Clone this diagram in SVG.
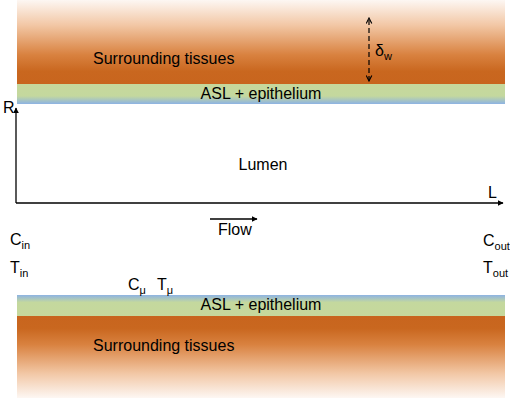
<svg xmlns="http://www.w3.org/2000/svg" width="510" height="402" viewBox="0 0 510 402">
<defs>
<linearGradient id="tisTop" x1="0" y1="0" x2="0" y2="1">
<stop offset="0" stop-color="#fdf7f3"/>
<stop offset="0.3" stop-color="#f2c7a5"/>
<stop offset="0.65" stop-color="#d98240"/>
<stop offset="0.85" stop-color="#c9671f"/>
<stop offset="1" stop-color="#c8651e"/>
</linearGradient>
<linearGradient id="tisBot" x1="0" y1="0" x2="0" y2="1">
<stop offset="0" stop-color="#c8651e"/>
<stop offset="0.15" stop-color="#c9671f"/>
<stop offset="0.35" stop-color="#d98240"/>
<stop offset="0.7" stop-color="#f2c7a5"/>
<stop offset="1" stop-color="#fdf7f3"/>
</linearGradient>
<linearGradient id="aslTop" x1="0" y1="0" x2="0" y2="1">
<stop offset="0" stop-color="#c6d89c"/>
<stop offset="0.6" stop-color="#c4d89e"/>
<stop offset="1" stop-color="#8db3e3"/>
</linearGradient>
<linearGradient id="aslBot" x1="0" y1="0" x2="0" y2="1">
<stop offset="0" stop-color="#8db3e3"/>
<stop offset="0.35" stop-color="#c4d89e"/>
<stop offset="1" stop-color="#c6d89c"/>
</linearGradient>
<marker id="ah" viewBox="0 0 10 10" refX="9" refY="5" markerWidth="6" markerHeight="6" orient="auto-start-reverse" markerUnits="userSpaceOnUse">
<path d="M0,0 L10,5 L0,10 z" fill="#000"/>
</marker>
<marker id="ao" viewBox="0 0 10 10" refX="9" refY="5" markerWidth="7" markerHeight="7" orient="auto-start-reverse" markerUnits="userSpaceOnUse">
<path d="M1,1 L9,5 L1,9" fill="none" stroke="#000" stroke-width="1.6"/>
</marker>
<style>
text{font-family:"Liberation Sans",Arial,sans-serif;fill:#000;}
.lbl{font-size:16px;}
.sub{font-size:11px;}
.ax{stroke:#000;stroke-width:1.3;fill:none;}
</style>
</defs>
<rect width="510" height="402" fill="#fff"/>
<g id="top-wall">
<rect x="17" y="0" width="488" height="84" fill="url(#tisTop)"/>
<rect x="17" y="84" width="488" height="20" fill="url(#aslTop)"/>
<text class="lbl" x="93" y="64">Surrounding tissues</text>
<text class="lbl" x="261" y="99" text-anchor="middle">ASL + epithelium</text>
</g>
<g id="bottom-wall">
<rect x="17" y="295" width="488" height="21" fill="url(#aslBot)"/>
<rect x="17" y="316" width="488" height="82" fill="url(#tisBot)"/>
<text class="lbl" x="261" y="310" text-anchor="middle">ASL + epithelium</text>
<text class="lbl" x="93" y="351">Surrounding tissues</text>
</g>
<g id="connectors">
<path class="ax" d="M16,203 L16,108" marker-end="url(#ah)"/>
<path class="ax" d="M16,203 L503,203" marker-end="url(#ah)"/>
<path class="ax" d="M210,219 L257,219" marker-end="url(#ah)"/>
<path d="M369,81 L369,18" stroke="#000" stroke-width="1.2" stroke-dasharray="5,3" fill="none" marker-end="url(#ao)" marker-start="url(#ao)"/>
</g>
<g id="labels">
<text class="lbl" x="3" y="113">R</text>
<text class="lbl" x="488" y="198">L</text>
<text class="lbl" x="263" y="170" text-anchor="middle">Lumen</text>
<text class="lbl" x="218" y="235">Flow</text>
<text class="lbl" x="375" y="56">δ<tspan class="sub" dy="4">w</tspan></text>
<text class="lbl" x="10" y="245">C<tspan class="sub" dy="4">in</tspan></text>
<text class="lbl" x="10" y="273">T<tspan class="sub" dy="4">in</tspan></text>
<text class="lbl" x="128" y="290">C<tspan class="sub" dy="4">μ</tspan></text>
<text class="lbl" x="157" y="290">T<tspan class="sub" dy="4">μ</tspan></text>
<text class="lbl" x="483" y="246">C<tspan class="sub" dy="4">out</tspan></text>
<text class="lbl" x="483" y="273">T<tspan class="sub" dy="4">out</tspan></text>
</g>
</svg>
